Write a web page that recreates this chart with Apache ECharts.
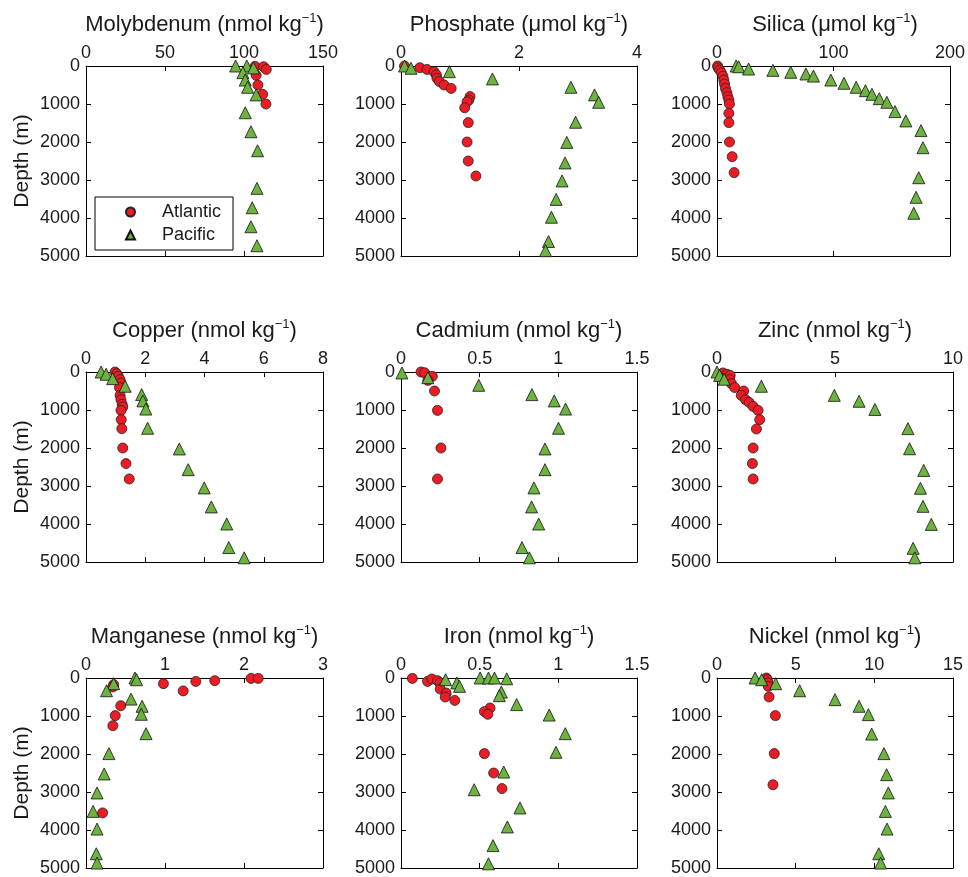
<!DOCTYPE html>
<html>
<head>
<meta charset="utf-8">
<script src="https://cdn.jsdelivr.net/npm/echarts@6/dist/echarts.min.js"></script>
<style>
  html, body { margin: 0; padding: 0; background: #fff; }
  #chart { width: 968px; height: 877px; }
</style>
</head>
<body>
<div id="chart"></div>
<script>
// [value, depth (m)]
const moAtlantic = [[107,10],[112.4,20],[114.1,90],[107.7,245],[108.8,500],[111.8,745],[113.9,1000]]
const moPacific = [[94.7,0],[101.8,0],[106,50],[99.3,175],[100.8,370],[102.3,560],[107.7,760],[100.8,1230],[104.4,1730],[108.6,2230],[108.2,3220],[105.2,3730],[104.4,4230],[108.2,4730]]

const poAtlantic = [[0.06,0],[0.32,45],[0.44,90],[0.56,150],[0.6,235],[0.61,325],[0.65,410],[0.73,500],[0.85,590],[1.17,805],[1.15,895],[1.12,940],[1.08,1100],[1.14,1490],[1.12,2000],[1.14,2500],[1.27,2895]]
const poPacific = [[0.06,0],[0.17,60],[0.82,150],[1.55,340],[2.88,560],[3.28,760],[3.35,955],[2.96,1480],[2.81,2010],[2.78,2550],[2.73,3025],[2.63,3510],[2.55,3980],[2.5,4620],[2.45,4860]]

const siAtlantic = [[0.5,0],[0.9,45],[2.3,105],[3.7,175],[5.1,265],[5.9,370],[6.5,475],[7.3,590],[8.5,700],[9.3,805],[10.2,895],[10.7,1000],[10.2,1245],[10.2,1490],[10.7,2000],[13,2385],[14.7,2805]]
const siPacific = [[16.4,0],[18.6,20],[27.1,80],[48,115],[63.3,165],[76.3,210],[82.8,265],[97.7,370],[109,455],[119.5,560],[127.4,650],[133,745],[139.3,860],[145.8,955],[152.8,1200],[162.1,1445],[175.1,1700],[176.8,2150],[173.2,2940],[170.9,3455],[168.9,3875]]

const cuAtlantic = [[0.98,0],[1.04,45],[1.09,115],[1.15,200],[1.18,290],[1.13,410],[1.15,615],[1.18,730],[1.22,850],[1.24,920],[1.18,1010],[1.19,1255],[1.21,1490],[1.24,2000],[1.35,2410],[1.46,2815]]
const cuPacific = [[0.51,0],[0.68,60],[0.9,175],[1.32,375],[1.88,595],[1.92,760],[2.02,975],[2.08,1480],[3.15,2025],[3.45,2570],[3.99,3050],[4.23,3550],[4.75,4000],[4.82,4620],[5.34,4890]]

const cdAtlantic = [[0.127,0],[0.15,20],[0.199,115],[0.171,220],[0.213,500],[0.232,1010],[0.254,2000],[0.232,2815]]
const cdPacific = [[0.006,25],[0.171,150],[0.494,350],[0.832,595],[0.974,760],[1.046,975],[1.001,1480],[0.915,2025],[0.915,2570],[0.845,3050],[0.83,3550],[0.875,4000],[0.769,4620],[0.816,4890]]

const znAtlantic = [[0.25,25],[0.42,60],[0.56,90],[0.54,200],[0.61,305],[0.75,410],[1.13,500],[1.03,615],[1.21,730],[1.36,800],[1.53,905],[1.74,1010],[1.81,1255],[1.67,1500],[1.53,2000],[1.5,2410],[1.53,2815]]
const znPacific = [[0,0],[0.11,90],[0.3,190],[1.88,375],[4.97,615],[6.02,770],[6.69,985],[8.09,1490],[8.16,2020],[8.76,2590],[8.62,3060],[8.73,3535],[9.08,4010],[8.31,4640],[8.38,4890]]

const mnAtlantic = [[2.09,10],[2.18,10],[1.63,70],[1.39,90],[0.98,150],[1.23,340],[0.35,175],[0.34,235],[0.44,730],[0.37,990],[0.34,1255],[0.21,3550]]
const mnPacific = [[0.62,0],[0.64,45],[0.35,150],[0.26,335],[0.57,555],[0.71,745],[0.7,955],[0.76,1465],[0.29,1990],[0.23,2525],[0.14,3025],[0.09,3510],[0.14,3975],[0.13,4625],[0.14,4870]]

const feAtlantic = [[0.072,10],[0.169,90],[0.196,25],[0.232,70],[0.249,130],[0.249,290],[0.287,395],[0.281,500],[0.342,590],[0.566,790],[0.53,885],[0.552,955],[0.53,1990],[0.589,2500],[0.642,2910]]
const fePacific = [[0.283,45],[0.355,130],[0.372,220],[0.503,0],[0.556,0],[0.594,0],[0.672,20],[0.638,370],[0.625,465],[0.735,700],[0.942,975],[1.044,1465],[0.985,1955],[0.653,2475],[0.465,2940],[0.756,3420],[0.676,3920],[0.585,4410],[0.556,4890]]

const niAtlantic = [[3.14,0],[3.2,45],[3.24,130],[3.26,220],[3.31,500],[3.71,990],[3.64,1990],[3.56,2810]]
const niPacific = [[2.42,0],[2.84,45],[3.73,150],[5.25,335],[7.5,570],[9.03,745],[9.62,965],[9.83,1475],[10.61,1990],[10.78,2545],[10.89,3025],[10.7,3510],[10.81,3975],[10.28,4625],[10.4,4870]]

// panel titles (name, unit) and x-axis ranges
const elements = ['Molybdenum', 'Phosphate', 'Silica', 'Copper', 'Cadmium', 'Zinc', 'Manganese', 'Iron', 'Nickel']
const units = ['nmol', 'μmol', 'μmol', 'nmol', 'nmol', 'nmol', 'nmol', 'nmol', 'nmol']
const xMax = [150, 4, 200, 8, 1.5, 10, 3, 1.5, 15]
const xStep = [50, 2, 100, 2, 0.5, 5, 1, 0.5, 5]
const atlantic = [moAtlantic, poAtlantic, siAtlantic, cuAtlantic, cdAtlantic, znAtlantic, mnAtlantic, feAtlantic, niAtlantic]
const pacific = [moPacific, poPacific, siPacific, cuPacific, cdPacific, znPacific, mnPacific, fePacific, niPacific]
const depthTicks = [0, 1000, 2000, 3000, 4000, 5000]

const FONT = 'Liberation Sans, Arial, Helvetica, sans-serif'
const INK = '#1a1a1a'
const colLeft = [86, 401, 717]
const colWidth = [237, 236, 236]
const rowTop = [66, 372, 678]
const plotHeight = 190

const grid = []
const xAxis = []
const yAxis = []
const title = []
const series = []

for (let i = 0; i < 9; i++) {
  const col = i % 3
  const row = Math.floor(i / 3)
  grid.push({ left: colLeft[col], top: rowTop[row], width: colWidth[col], height: plotHeight })

  const axisLine = { show: true, onZero: false, lineStyle: { color: '#000', width: 1 } }
  const tick = { show: true, inside: true, length: 5, lineStyle: { color: '#000' } }
  const xBase = { type: 'value', gridIndex: i, min: 0, max: xMax[i], interval: xStep[i], splitLine: { show: false }, axisLine: axisLine, axisTick: tick }
  xAxis.push(Object.assign({}, xBase, {
    position: 'top',
    axisLabel: { show: true, margin: 4, fontSize: 18, color: INK, fontFamily: FONT, showMinLabel: true, showMaxLabel: true },
  }))
  xAxis.push(Object.assign({}, xBase, { position: 'bottom', axisLabel: { show: false } }))

  const yBase = { type: 'value', gridIndex: i, min: depthTicks[0], max: depthTicks[depthTicks.length - 1], interval: 1000, inverse: true, splitLine: { show: false }, axisLine: axisLine, axisTick: tick }
  const yLeft = Object.assign({}, yBase, {
    position: 'left',
    axisLabel: {
      show: true, margin: 6, fontSize: 18, color: INK, fontFamily: FONT, showMinLabel: true, showMaxLabel: true,
      formatter: function (v) { return String(v) },
    },
  })
  if (col === 0) {
    yLeft.name = 'Depth (m)'
    yLeft.nameLocation = 'middle'
    yLeft.nameGap = 53
    yLeft.nameTextStyle = { fontSize: 21, color: INK, fontFamily: FONT }
  }
  yAxis.push(yLeft)
  yAxis.push(Object.assign({}, yBase, { position: 'right', axisLabel: { show: false } }))

  title.push({
    text: '{m|' + elements[i] + ' (' + units[i] + ' kg}{s|−1}{m|)}',
    left: colLeft[col] + colWidth[col] / 2,
    top: rowTop[row] - 54,
    textAlign: 'center',
    padding: 0,
    textStyle: {
      fontWeight: 'normal',
      rich: {
        m: { fontSize: 22, lineHeight: 25, fontWeight: 'normal', color: INK, fontFamily: FONT },
        s: { fontSize: 13, lineHeight: 13, fontWeight: 'normal', color: INK, fontFamily: FONT, verticalAlign: 'top' },
      },
    },
  })

  series.push({
    name: 'Atlantic',
    type: 'scatter',
    xAxisIndex: 2 * i,
    yAxisIndex: 2 * i,
    symbol: 'circle',
    symbolSize: 10,
    clip: false,
    itemStyle: { color: '#ed1c24', borderColor: '#222', borderWidth: 0.8, opacity: 1 },
    data: atlantic[i],
  })
  series.push({
    name: 'Pacific',
    type: 'scatter',
    xAxisIndex: 2 * i,
    yAxisIndex: 2 * i,
    symbol: 'triangle',
    symbolSize: 12,
    clip: false,
    itemStyle: { color: '#6cb33f', borderColor: '#111', borderWidth: 0.8, opacity: 1 },
    data: pacific[i],
  })
}

const chart = echarts.init(document.getElementById('chart'), null, { renderer: 'canvas' })
chart.setOption({
  animation: false,
  backgroundColor: '#fff',
  textStyle: { fontFamily: FONT },
  title: title,
  grid: grid,
  xAxis: xAxis,
  yAxis: yAxis,
  legend: {
    data: [{ name: 'Atlantic', icon: 'circle' }, { name: 'Pacific', icon: 'triangle' }],
    orient: 'vertical',
    left: 95,
    top: 197,
    padding: [6, 12, 6, 30],
    itemWidth: 9,
    itemHeight: 9,
    itemGap: 5,
    borderColor: '#000',
    borderWidth: 1,
    backgroundColor: '#fff',
    selectedMode: false,
    formatter: '{t|{name}}',
    textStyle: {
      fontSize: 18, color: INK, fontFamily: FONT,
      rich: { t: { fontSize: 18, color: INK, fontFamily: FONT, padding: [0, 0, 0, 22] } },
    },
  },
  series: series,
})
</script>
</body>
</html>
